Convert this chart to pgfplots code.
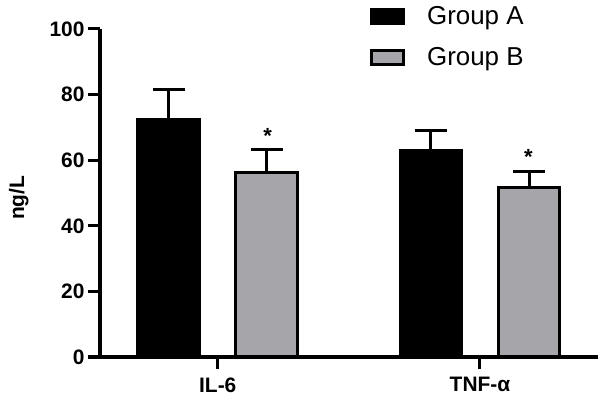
\documentclass[border=0pt]{standalone}
\usepackage{fontspec}
\setmainfont{Liberation Sans}
\usepackage{pgfplots}
\pgfplotsset{compat=1.18}
\definecolor{barB}{RGB}{166,166,170}
\begin{document}
\begin{tikzpicture}
\path[use as bounding box] (0,0) rectangle (600bp,405bp);
\begin{axis}[
  at={(100bp,48bp)}, anchor=south west,
  scale only axis, width=498bp, height=328bp,
  xmin=-0.449, xmax=1.45, ymin=0, ymax=100,
  axis lines*=left,
  axis line style={line width=3bp},
  every tick/.style={black, line width=3bp},
  tick align=outside, major tick length=12bp,
  xtick={0,1}, xticklabels={IL-6, TNF-α},
  ytick={0,20,...,100},
  tick label style={font=\fontsize{21}{25}\selectfont\bfseries},
  xticklabel style={yshift=-5bp},
  /pgf/number format/assume math mode=true,
  ylabel={ng/L},
  ylabel style={font=\fontsize{21}{25}\selectfont\bfseries, at={(axis description cs:-0.163,0.485)}, anchor=center},
  clip=false,
  legend style={at={(axis description cs:0.542,1.076)}, anchor=north west, draw=none, fill=none,
    inner sep=0pt, font=\fontsize{26}{30}\selectfont, column sep=20bp, row sep=18bp},
  legend cell align=left,
  legend image code/.code={\draw[#1, line width=3bp] (0bp,-7bp) rectangle (32bp,7bp);},
]
\addplot[ybar, bar width=0.236, bar shift=0, fill=black, draw=black, line width=3bp,
  error bars/.cd, y dir=plus, y explicit,
  error bar style={line width=3bp, black},
  error mark options={rotate=90, line width=3bp, mark size=16bp, black}]
  coordinates {(-0.187,72.5) +- (0,9.1) (0.813,63.0) +- (0,6.1)};
\addplot[ybar, bar width=0.236, bar shift=0, fill=barB, draw=black, line width=3bp,
  error bars/.cd, y dir=plus, y explicit,
  error bar style={line width=3bp, black},
  error mark options={rotate=90, line width=3bp, mark size=16bp, black}]
  coordinates {(0.187,56.3) +- (0,7.0) (1.187,51.7) +- (0,4.9)};
\legend{Group A, Group B}
\node at (axis cs:0.19,67.5) {\fontsize{22}{26}\selectfont\bfseries *};
\node at (axis cs:1.185,61.1) {\fontsize{22}{26}\selectfont\bfseries *};
\end{axis}
\end{tikzpicture}
\end{document}
